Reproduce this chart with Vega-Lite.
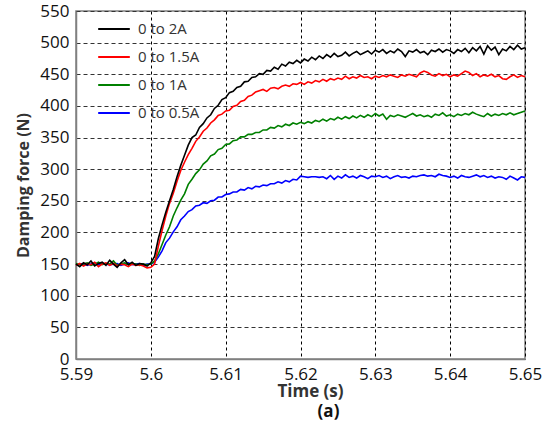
{
"$schema": "https://vega.github.io/schema/vega-lite/v6.json",
"width": 449, "height": 348,
"autosize": {"type": "none"},
"padding": {"left": 76, "top": 11, "right": 25, "bottom": 63},
"background": "white",
"config": {
  "font": "Open Sans",
  "view": {"stroke": "#808080", "strokeWidth": 1.5},
  "axis": {"ticks": false, "tickSize": 0, "domainColor": "#808080", "domainWidth": 1.5, "labelColor": "#111", "labelFontSize": 17, "titleColor": "#333", "titleFontWeight": "bold", "gridOpacity": 1, "gridWidth": 1}
},
"title": {"text": "(a)", "orient": "bottom", "frame": "group", "anchor": "middle", "dx": 28, "offset": 5, "fontSize": 17, "fontWeight": "bold", "color": "#111", "font": "Open Sans"},
"datasets": {
"b": [{"t":5.59,"F":150},{"t":5.5905,"F":146},{"t":5.591,"F":152},{"t":5.5915,"F":149},{"t":5.592,"F":155},{"t":5.5925,"F":147},{"t":5.593,"F":151},{"t":5.5935,"F":153},{"t":5.594,"F":148},{"t":5.5945,"F":156},{"t":5.595,"F":150},{"t":5.5955,"F":145},{"t":5.596,"F":152},{"t":5.5965,"F":157},{"t":5.597,"F":149},{"t":5.5975,"F":153},{"t":5.598,"F":148},{"t":5.5985,"F":151},{"t":5.599,"F":150},{"t":5.5995,"F":147},{"t":5.6,"F":152},
{"t":5.6005,"F":162},{"t":5.601,"F":190},{"t":5.6015,"F":212},{"t":5.602,"F":232},{"t":5.6025,"F":250},{"t":5.603,"F":268},{"t":5.6035,"F":288},{"t":5.604,"F":306},{"t":5.6045,"F":322},{"t":5.605,"F":338},{"t":5.6055,"F":350},{"t":5.606,"F":354},{"t":5.6065,"F":366},{"t":5.607,"F":372},{"t":5.6075,"F":381},{"t":5.608,"F":386},{"t":5.6085,"F":396},{"t":5.609,"F":401},{"t":5.6095,"F":410},{"t":5.61,"F":413},{"t":5.6105,"F":421},{"t":5.611,"F":423},{"t":5.6115,"F":429},{"t":5.612,"F":431},{"t":5.6125,"F":438},{"t":5.613,"F":439},{"t":5.6135,"F":445},{"t":5.614,"F":446},{"t":5.6145,"F":451},{"t":5.615,"F":450},{"t":5.6155,"F":456},{"t":5.616,"F":455},{"t":5.6165,"F":461},{"t":5.617,"F":458},{"t":5.6175,"F":466},{"t":5.618,"F":463},{"t":5.6185,"F":469},{"t":5.619,"F":467},{"t":5.6195,"F":472},{"t":5.62,"F":468},
{"t":5.6205,"F":474},{"t":5.621,"F":471},{"t":5.6215,"F":477},{"t":5.622,"F":473},{"t":5.6225,"F":479},{"t":5.623,"F":475},{"t":5.6235,"F":481},{"t":5.624,"F":477},{"t":5.6245,"F":483},{"t":5.625,"F":478},{"t":5.6255,"F":480},{"t":5.626,"F":485},{"t":5.6265,"F":479},{"t":5.627,"F":483},{"t":5.6275,"F":486},{"t":5.628,"F":481},{"t":5.6285,"F":484},{"t":5.629,"F":487},{"t":5.6295,"F":482},{"t":5.63,"F":488},{"t":5.6305,"F":485},{"t":5.631,"F":489},{"t":5.6315,"F":483},{"t":5.632,"F":487},{"t":5.6325,"F":484},{"t":5.633,"F":490},{"t":5.6335,"F":486},{"t":5.634,"F":478},{"t":5.6345,"F":487},{"t":5.635,"F":485},{"t":5.6355,"F":489},{"t":5.636,"F":484},{"t":5.6365,"F":486},{"t":5.637,"F":481},{"t":5.6375,"F":488},{"t":5.638,"F":486},{"t":5.6385,"F":490},{"t":5.639,"F":485},{"t":5.6395,"F":489},{"t":5.64,"F":487},{"t":5.6405,"F":483},{"t":5.641,"F":489},{"t":5.6415,"F":486},{"t":5.642,"F":491},{"t":5.6425,"F":484},{"t":5.643,"F":492},{"t":5.6435,"F":487},{"t":5.644,"F":494},{"t":5.6445,"F":482},{"t":5.645,"F":495},{"t":5.6455,"F":488},{"t":5.646,"F":493},{"t":5.6465,"F":481},{"t":5.647,"F":490},{"t":5.6475,"F":487},{"t":5.648,"F":494},{"t":5.6485,"F":489},{"t":5.649,"F":496},{"t":5.6495,"F":490},{"t":5.65,"F":492}],
"r": [{"t":5.59,"F":148},{"t":5.5905,"F":151},{"t":5.591,"F":147},{"t":5.5915,"F":150},{"t":5.592,"F":149},{"t":5.5925,"F":153},{"t":5.593,"F":146},{"t":5.5935,"F":150},{"t":5.594,"F":152},{"t":5.5945,"F":148},{"t":5.595,"F":151},{"t":5.5955,"F":147},{"t":5.596,"F":150},{"t":5.5965,"F":149},{"t":5.597,"F":146},{"t":5.5975,"F":150},{"t":5.598,"F":148},{"t":5.5985,"F":149},{"t":5.599,"F":147},{"t":5.5995,"F":144},{"t":5.6,"F":145},
{"t":5.6005,"F":150},{"t":5.601,"F":178},{"t":5.6015,"F":203},{"t":5.602,"F":226},{"t":5.6025,"F":246},{"t":5.603,"F":262},{"t":5.6035,"F":281},{"t":5.604,"F":298},{"t":5.6045,"F":311},{"t":5.605,"F":323},{"t":5.6055,"F":333},{"t":5.606,"F":344},{"t":5.6065,"F":351},{"t":5.607,"F":360},{"t":5.6075,"F":365},{"t":5.608,"F":373},{"t":5.6085,"F":378},{"t":5.609,"F":385},{"t":5.6095,"F":387},{"t":5.61,"F":392},{"t":5.6105,"F":393},{"t":5.611,"F":399},{"t":5.6115,"F":401},{"t":5.612,"F":407},{"t":5.6125,"F":409},{"t":5.613,"F":415},{"t":5.6135,"F":417},{"t":5.614,"F":422},{"t":5.6145,"F":424},{"t":5.615,"F":426},{"t":5.6155,"F":423},{"t":5.616,"F":428},{"t":5.6165,"F":429},{"t":5.617,"F":427},{"t":5.6175,"F":431},{"t":5.618,"F":433},{"t":5.6185,"F":431},{"t":5.619,"F":435},{"t":5.6195,"F":434},{"t":5.62,"F":437},
{"t":5.6205,"F":434},{"t":5.621,"F":438},{"t":5.6215,"F":436},{"t":5.622,"F":440},{"t":5.6225,"F":438},{"t":5.623,"F":442},{"t":5.6235,"F":439},{"t":5.624,"F":443},{"t":5.6245,"F":441},{"t":5.625,"F":444},{"t":5.6255,"F":442},{"t":5.626,"F":447},{"t":5.6265,"F":443},{"t":5.627,"F":446},{"t":5.6275,"F":444},{"t":5.628,"F":448},{"t":5.6285,"F":445},{"t":5.629,"F":446},{"t":5.6295,"F":443},{"t":5.63,"F":447},{"t":5.6305,"F":445},{"t":5.631,"F":448},{"t":5.6315,"F":446},{"t":5.632,"F":449},{"t":5.6325,"F":447},{"t":5.633,"F":445},{"t":5.6335,"F":449},{"t":5.634,"F":447},{"t":5.6345,"F":450},{"t":5.635,"F":448},{"t":5.6355,"F":446},{"t":5.636,"F":452},{"t":5.6365,"F":455},{"t":5.637,"F":453},{"t":5.6375,"F":449},{"t":5.638,"F":447},{"t":5.6385,"F":451},{"t":5.639,"F":448},{"t":5.6395,"F":450},{"t":5.64,"F":446},{"t":5.6405,"F":449},{"t":5.641,"F":447},{"t":5.6415,"F":451},{"t":5.642,"F":455},{"t":5.6425,"F":453},{"t":5.643,"F":448},{"t":5.6435,"F":451},{"t":5.644,"F":446},{"t":5.6445,"F":449},{"t":5.645,"F":447},{"t":5.6455,"F":450},{"t":5.646,"F":446},{"t":5.6465,"F":448},{"t":5.647,"F":443},{"t":5.6475,"F":442},{"t":5.648,"F":446},{"t":5.6485,"F":449},{"t":5.649,"F":445},{"t":5.6495,"F":448},{"t":5.65,"F":446}],
"g": [{"t":5.59,"F":151},{"t":5.5905,"F":149},{"t":5.591,"F":150},{"t":5.5915,"F":152},{"t":5.592,"F":148},{"t":5.5925,"F":150},{"t":5.593,"F":153},{"t":5.5935,"F":149},{"t":5.594,"F":151},{"t":5.5945,"F":150},{"t":5.595,"F":155},{"t":5.5955,"F":148},{"t":5.596,"F":150},{"t":5.5965,"F":152},{"t":5.597,"F":149},{"t":5.5975,"F":151},{"t":5.598,"F":150},{"t":5.5985,"F":148},{"t":5.599,"F":150},{"t":5.5995,"F":149},{"t":5.6,"F":150},
{"t":5.6005,"F":155},{"t":5.601,"F":166},{"t":5.6015,"F":181},{"t":5.602,"F":196},{"t":5.6025,"F":209},{"t":5.603,"F":226},{"t":5.6035,"F":239},{"t":5.604,"F":251},{"t":5.6045,"F":261},{"t":5.605,"F":276},{"t":5.6055,"F":284},{"t":5.606,"F":293},{"t":5.6065,"F":299},{"t":5.607,"F":308},{"t":5.6075,"F":313},{"t":5.608,"F":321},{"t":5.6085,"F":324},{"t":5.609,"F":331},{"t":5.6095,"F":333},{"t":5.61,"F":339},{"t":5.6105,"F":340},{"t":5.611,"F":345},{"t":5.6115,"F":346},{"t":5.612,"F":351},{"t":5.6125,"F":351},{"t":5.613,"F":355},{"t":5.6135,"F":355},{"t":5.614,"F":358},{"t":5.6145,"F":358},{"t":5.615,"F":362},{"t":5.6155,"F":362},{"t":5.616,"F":366},{"t":5.6165,"F":365},{"t":5.617,"F":369},{"t":5.6175,"F":367},{"t":5.618,"F":371},{"t":5.6185,"F":369},{"t":5.619,"F":373},{"t":5.6195,"F":371},{"t":5.62,"F":374},
{"t":5.6205,"F":372},{"t":5.621,"F":375},{"t":5.6215,"F":373},{"t":5.622,"F":377},{"t":5.6225,"F":375},{"t":5.623,"F":379},{"t":5.6235,"F":376},{"t":5.624,"F":380},{"t":5.6245,"F":378},{"t":5.625,"F":382},{"t":5.6255,"F":379},{"t":5.626,"F":383},{"t":5.6265,"F":380},{"t":5.627,"F":384},{"t":5.6275,"F":381},{"t":5.628,"F":385},{"t":5.6285,"F":382},{"t":5.629,"F":386},{"t":5.6295,"F":383},{"t":5.63,"F":388},{"t":5.6305,"F":384},{"t":5.631,"F":387},{"t":5.6315,"F":379},{"t":5.632,"F":385},{"t":5.6325,"F":383},{"t":5.633,"F":386},{"t":5.6335,"F":384},{"t":5.634,"F":382},{"t":5.6345,"F":385},{"t":5.635,"F":388},{"t":5.6355,"F":384},{"t":5.636,"F":386},{"t":5.6365,"F":383},{"t":5.637,"F":385},{"t":5.6375,"F":382},{"t":5.638,"F":387},{"t":5.6385,"F":385},{"t":5.639,"F":389},{"t":5.6395,"F":384},{"t":5.64,"F":386},{"t":5.6405,"F":383},{"t":5.641,"F":387},{"t":5.6415,"F":385},{"t":5.642,"F":388},{"t":5.6425,"F":386},{"t":5.643,"F":390},{"t":5.6435,"F":387},{"t":5.644,"F":385},{"t":5.6445,"F":383},{"t":5.645,"F":388},{"t":5.6455,"F":384},{"t":5.646,"F":387},{"t":5.6465,"F":385},{"t":5.647,"F":388},{"t":5.6475,"F":386},{"t":5.648,"F":389},{"t":5.6485,"F":386},{"t":5.649,"F":388},{"t":5.6495,"F":390},{"t":5.65,"F":392}],
"u": [{"t":5.59,"F":149},{"t":5.5905,"F":150},{"t":5.591,"F":151},{"t":5.5915,"F":148},{"t":5.592,"F":150},{"t":5.5925,"F":152},{"t":5.593,"F":149},{"t":5.5935,"F":151},{"t":5.594,"F":150},{"t":5.5945,"F":149},{"t":5.595,"F":150},{"t":5.5955,"F":151},{"t":5.596,"F":148},{"t":5.5965,"F":150},{"t":5.597,"F":152},{"t":5.5975,"F":149},{"t":5.598,"F":150},{"t":5.5985,"F":151},{"t":5.599,"F":148},{"t":5.5995,"F":150},{"t":5.6,"F":150},
{"t":5.6005,"F":153},{"t":5.601,"F":161},{"t":5.6015,"F":171},{"t":5.602,"F":184},{"t":5.6025,"F":191},{"t":5.603,"F":201},{"t":5.6035,"F":209},{"t":5.604,"F":220},{"t":5.6045,"F":226},{"t":5.605,"F":233},{"t":5.6055,"F":236},{"t":5.606,"F":242},{"t":5.6065,"F":243},{"t":5.607,"F":247},{"t":5.6075,"F":246},{"t":5.608,"F":250},{"t":5.6085,"F":251},{"t":5.609,"F":256},{"t":5.6095,"F":256},{"t":5.61,"F":260},{"t":5.6105,"F":261},{"t":5.611,"F":264},{"t":5.6115,"F":264},{"t":5.612,"F":268},{"t":5.6125,"F":267},{"t":5.613,"F":271},{"t":5.6135,"F":269},{"t":5.614,"F":273},{"t":5.6145,"F":272},{"t":5.615,"F":275},{"t":5.6155,"F":274},{"t":5.616,"F":277},{"t":5.6165,"F":277},{"t":5.617,"F":280},{"t":5.6175,"F":278},{"t":5.618,"F":282},{"t":5.6185,"F":280},{"t":5.619,"F":284},{"t":5.6195,"F":283},{"t":5.62,"F":289},
{"t":5.6205,"F":288},{"t":5.621,"F":287},{"t":5.6215,"F":288},{"t":5.622,"F":288},{"t":5.6225,"F":287},{"t":5.623,"F":288},{"t":5.6235,"F":285},{"t":5.624,"F":290},{"t":5.6245,"F":284},{"t":5.625,"F":289},{"t":5.6255,"F":286},{"t":5.626,"F":291},{"t":5.6265,"F":287},{"t":5.627,"F":289},{"t":5.6275,"F":286},{"t":5.628,"F":290},{"t":5.6285,"F":288},{"t":5.629,"F":285},{"t":5.6295,"F":289},{"t":5.63,"F":288},{"t":5.6305,"F":290},{"t":5.631,"F":287},{"t":5.6315,"F":289},{"t":5.632,"F":285},{"t":5.6325,"F":288},{"t":5.633,"F":290},{"t":5.6335,"F":287},{"t":5.634,"F":288},{"t":5.6345,"F":286},{"t":5.635,"F":289},{"t":5.6355,"F":288},{"t":5.636,"F":290},{"t":5.6365,"F":291},{"t":5.637,"F":289},{"t":5.6375,"F":290},{"t":5.638,"F":288},{"t":5.6385,"F":292},{"t":5.639,"F":290},{"t":5.6395,"F":289},{"t":5.64,"F":287},{"t":5.6405,"F":289},{"t":5.641,"F":286},{"t":5.6415,"F":290},{"t":5.642,"F":288},{"t":5.6425,"F":287},{"t":5.643,"F":289},{"t":5.6435,"F":291},{"t":5.644,"F":288},{"t":5.6445,"F":290},{"t":5.645,"F":287},{"t":5.6455,"F":289},{"t":5.646,"F":286},{"t":5.6465,"F":288},{"t":5.647,"F":287},{"t":5.6475,"F":284},{"t":5.648,"F":289},{"t":5.6485,"F":286},{"t":5.649,"F":283},{"t":5.6495,"F":288},{"t":5.65,"F":287}]
},
"encoding": {
  "x": {"field": "t", "type": "quantitative", "scale": {"domain": [5.59, 5.65], "nice": false, "zero": false},
    "axis": {"values": [5.59, 5.6, 5.61, 5.62, 5.63, 5.64, 5.65], "format": ".2~f", "labelFlush": false, "labelPadding": 7, "grid": true, "gridDash": [3, 3], "gridColor": "#000", "title": "Time (s)", "titleFontSize": 17, "titleX": 234, "titleY": 37, "titleAlign": "center", "titleBaseline": "alphabetic"}},
  "y": {"field": "F", "type": "quantitative", "scale": {"domain": [0, 550], "nice": false},
    "axis": {"values": [0, 50, 100, 150, 200, 250, 300, 350, 400, 450, 500, 550], "labelPadding": 7, "grid": true, "gridDash": [4, 3], "gridColor": "#333", "title": "Damping force (N)", "titleFontSize": 16, "titleX": -53, "titleY": 174, "titleAngle": 270, "titleAlign": "center", "titleBaseline": "middle"}}
},
"layer": [
  {"data": {"name": "u"}, "mark": {"type": "line", "strokeWidth": 1.6},
   "encoding": {"color": {"datum": "0 to 0.5A", "scale": {"domain": ["0 to 2A", "0 to 1.5A", "0 to 1A", "0 to 0.5A"], "range": ["#000000", "#ff0000", "#008000", "#0000ff"]},
     "legend": {"orient": "none", "legendX": 21, "legendY": 1, "title": null, "padding": 0, "symbolType": "stroke", "symbolSize": 1000, "symbolStrokeWidth": 2, "labelFontSize": 15, "labelColor": "#333", "labelOffset": 7, "rowPadding": 3}}}},
  {"data": {"name": "g"}, "mark": {"type": "line", "strokeWidth": 1.6}, "encoding": {"color": {"datum": "0 to 1A"}}},
  {"data": {"name": "r"}, "mark": {"type": "line", "strokeWidth": 1.6}, "encoding": {"color": {"datum": "0 to 1.5A"}}},
  {"data": {"name": "b"}, "mark": {"type": "line", "strokeWidth": 1.6}, "encoding": {"color": {"datum": "0 to 2A"}}}
]
}
